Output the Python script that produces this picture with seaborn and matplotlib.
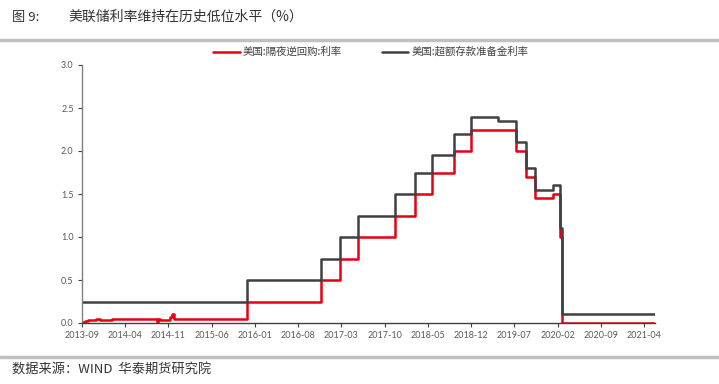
import matplotlib.pyplot as plt
import matplotlib.dates as mdates
import pandas as pd
import seaborn as sns

# 美国:隔夜逆回购:利率 (ON RRP) —— 变动日期与利率
rrp_dates = [
    "2013-09-23", "2013-10-10", "2013-10-25", "2013-11-10", "2013-12-01",
    "2013-12-23", "2014-02-18", "2014-09-29", "2014-10-01", "2014-10-10",
    "2014-11-10", "2014-11-28", "2014-12-08", "2014-12-20", "2015-12-17",
    "2016-12-15", "2017-03-16", "2017-06-15", "2017-12-14", "2018-03-22",
    "2018-06-14", "2018-09-27", "2018-12-20", "2019-08-01", "2019-09-19",
    "2019-10-31", "2020-01-30", "2020-03-04", "2020-03-16", "2021-06-15",
]
rrp_values = [
    0.01, 0.02, 0.03, 0.04, 0.05,
    0.03, 0.05, 0.00, 0.05, 0.03,
    0.03, 0.07, 0.10, 0.05, 0.25,
    0.50, 0.75, 1.00, 1.25, 1.50,
    1.75, 2.00, 2.25, 2.00, 1.70,
    1.45, 1.50, 1.00, 0.00, 0.00,
]

# 美国:超额存款准备金利率 (IOER)
ioer_dates = [
    "2013-09-23", "2015-12-17", "2016-12-15", "2017-03-16", "2017-06-15",
    "2017-12-14", "2018-03-22", "2018-06-14", "2018-09-27", "2018-12-20",
    "2019-05-02", "2019-08-01", "2019-09-19", "2019-10-31", "2020-01-30",
    "2020-03-04", "2020-03-16", "2021-06-15",
]
ioer_values = [
    0.25, 0.50, 0.75, 1.00, 1.25,
    1.50, 1.75, 1.95, 2.20, 2.40,
    2.35, 2.10, 1.80, 1.55, 1.60,
    1.10, 0.10, 0.10,
]

series_names = ["美国:隔夜逆回购:利率", "美国:超额存款准备金利率"]
series_colors = ["#e60012", "#404040"]

# 横轴刻度：自 2013-09-23 起每 7 个月
tick_dates = pd.date_range("2013-09-23", periods=14, freq=pd.DateOffset(months=7))
y_ticks = [0.0, 0.5, 1.0, 1.5, 2.0, 2.5, 3.0]

rrp = pd.DataFrame({"date": pd.to_datetime(rrp_dates), "rate": rrp_values})
ioer = pd.DataFrame({"date": pd.to_datetime(ioer_dates), "rate": ioer_values})

sns.set_theme(style="white")
plt.rcParams["font.family"] = ["Noto Sans CJK SC", "DejaVu Sans"]

fig = plt.figure(figsize=(7.19, 3.84), dpi=100)
ax = fig.add_axes([82 / 719, 1 - 323 / 384, (655 - 82) / 719, (323 - 65) / 384])

for df, name, color in zip([rrp, ioer], series_names, series_colors):
    sns.lineplot(data=df, x="date", y="rate", ax=ax, color=color, label=name,
                 drawstyle="steps-post", linewidth=1.8, estimator=None,
                 sort=False, legend=False)

ax.set_xlim(pd.Timestamp("2013-09-23"), pd.Timestamp("2021-06-15"))
ax.set_ylim(0, 3.0)
ax.set_xticks(tick_dates)
ax.xaxis.set_major_formatter(mdates.DateFormatter("%Y-%m"))
ax.set_yticks(y_ticks)
ax.set_yticklabels([f"{v:.1f}" for v in y_ticks])
ax.set_xlabel("")
ax.set_ylabel("")

for side in ["top", "right"]:
    ax.spines[side].set_visible(False)
ax.spines["left"].set_color("#808080")
ax.spines["bottom"].set_color("#404040")
ax.spines["left"].set_linewidth(1.0)
ax.spines["bottom"].set_linewidth(1.0)
ax.tick_params(axis="both", which="major", direction="out", length=3, width=0.8,
               labelsize=6.5, labelcolor="#595959", pad=3)
ax.tick_params(axis="x", bottom=True, color="#404040")
ax.tick_params(axis="y", left=True, color="#404040")
for lab in ax.get_xticklabels() + ax.get_yticklabels():
    lab.set_family(["Lato", "DejaVu Sans"])

# 图例
handles, labels = ax.get_legend_handles_labels()
fig.legend(handles, labels, loc="center", ncol=2, bbox_to_anchor=(0.516, 1 - 52 / 384),
           frameon=False, fontsize=7.5, handlelength=2.5, columnspacing=3.9,
           handletextpad=0.3, labelcolor="#404040")

# 标题、分隔线与来源
fig.text(12 / 719, 1 - 17 / 384, "图 9:", fontsize=9.5, color="#333333", va="center")
fig.text(68 / 719, 1 - 17 / 384, "美联储利率维持在历史低位水平（%）", fontsize=10,
         color="#333333", va="center")
fig.add_artist(plt.Line2D([0, 1], [1 - 40 / 384, 1 - 40 / 384], transform=fig.transFigure,
                          color="#c0c0c0", linewidth=2.5))
fig.add_artist(plt.Line2D([0, 1], [1 - 357 / 384, 1 - 357 / 384], transform=fig.transFigure,
                          color="#c0c0c0", linewidth=2.5))
fig.text(12 / 719, 1 - 370 / 384, "数据来源：WIND  华泰期货研究院", fontsize=9.5,
         color="#333333", va="center")

fig.savefig("out.png", dpi=100)
